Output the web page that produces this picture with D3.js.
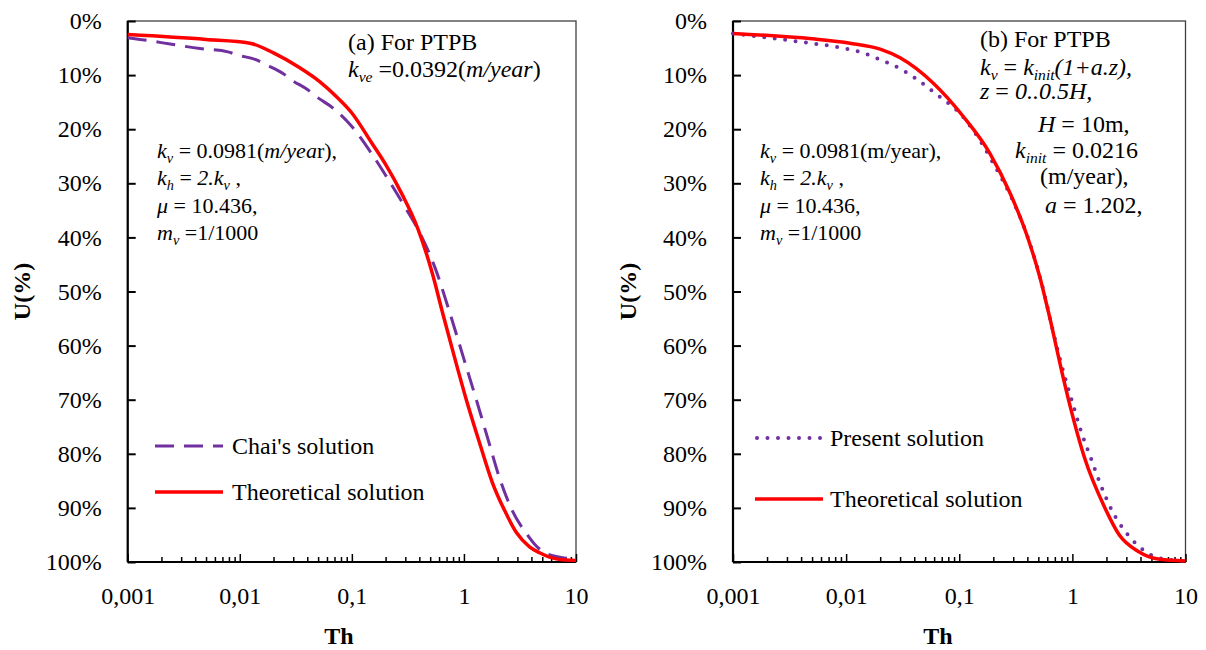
<!DOCTYPE html>
<html><head><meta charset="utf-8">
<script src="https://cdn.jsdelivr.net/npm/d3@7"></script>
<style>
html,body{margin:0;padding:0;background:#fff;}
svg{display:block;}
</style></head>
<body><svg id="c" width="1206" height="650" font-family="Liberation Serif, Times New Roman, serif"></svg>
<script>
// ---- data ----
const xTickValues = [0.001, 0.01, 0.1, 1, 10];
const xTickLabels = ["0,001", "0,01", "0,1", "1", "10"];
const yTickValues = [0, 10, 20, 30, 40, 50, 60, 70, 80, 90, 100];

// panel (a) theoretical
const thA_theory = [0.001,0.005,0.0123,0.02,0.034,0.0516,0.073,0.1,0.15,0.2,0.28,0.39,0.52,0.65,0.82,1.05,1.38,1.8,2.31,2.95,3.85,4.73,5.81,7.5,10];
const uA_theory  = [2.5,3.4,4.1,5.9,8.6,11.2,14.0,17.0,22.5,26.5,32.0,38.5,46.5,54.2,62.0,70.0,78.0,85.4,90.5,94.6,97.2,98.3,99.1,99.6,99.7];
// panel (a) Chai's solution
const thA_chai = [0.001,0.00129,0.00247,0.00441,0.00783,0.00962,0.0141,0.0173,0.0243,0.029,0.0407,0.0483,0.068,0.1,0.15,0.2,0.3,0.4,0.55,0.75,1.0,1.29,1.65,2.08,2.7,3.6,4.4,5.42,8.18,10];
const uA_chai  = [3.1,3.4,4.3,5.1,5.7,6.3,7.2,8.1,9.7,10.9,12.75,14.0,16.1,19.5,24.5,28.5,34.5,39.0,45.5,54.0,62.5,70.0,77.5,84.5,90.5,94.7,97.0,98.4,99.3,99.6];
// panel (b) present solution
const thB_present = [0.001,0.00226,0.00449,0.00883,0.0133,0.0208,0.0312,0.045,0.0636,0.108,0.158,0.2,0.246,0.301,0.382,0.469,0.555,0.66,0.8,1.0,1.2,1.44,1.8,2.24,3.1,4.37,6.6,10];
const uB_present  = [2.3,3.2,4.0,4.9,5.7,7.3,9.0,11.2,13.6,17.7,22.6,26.3,29.7,33.4,38.6,44.2,49.8,56.5,63.5,70.5,76.0,80.5,86.0,90.5,95.0,98.0,99.5,99.8];
// panel (b) theoretical
const thB_theory = [0.001,0.005,0.0108,0.02,0.030,0.059,0.109,0.187,0.281,0.395,0.518,0.65,0.8,0.95,1.27,1.94,2.6,3.8,5.9,10];
const uB_theory  = [2.3,3.3,4.1,5.2,6.8,11.5,17.7,24.5,31.8,39.5,47.5,56.0,64.5,71.0,80.5,90.0,95.0,98.0,99.5,99.8];

const RED = "#FF0000", PURPLE = "#7030A0";
const FONT = "Liberation Serif, Times New Roman, serif";
const svg = d3.select("#c");

function richText(g, x, y, size, segs) {
  const t = g.append("text").attr("x", x).attr("y", y).attr("font-size", size)
    .attr("font-family", FONT).attr("fill", "#000").attr("xml:space", "preserve");
  let sub = false;
  segs.forEach(([s, st]) => {
    const ts = t.append("tspan").text(s);
    if (st === "i") ts.attr("font-style", "italic");
    if (st === "sub") {
      ts.attr("font-style", "italic").attr("font-size", size * 0.65).attr("dy", size * 0.22);
      sub = true;
    } else if (sub) {
      ts.attr("dy", -size * 0.22); sub = false;
    }
  });
  return t;
}

function panel(cfg) {
  const g = svg.append("g");
  const x = d3.scaleLog().domain([0.001, 10]).range([cfg.left, cfg.right]);
  const y = d3.scaleLinear().domain([0, 100]).range([cfg.top, cfg.bottom]);

  g.append("rect").attr("x", cfg.left).attr("y", cfg.top)
    .attr("width", cfg.right - cfg.left).attr("height", cfg.bottom - cfg.top)
    .attr("fill", "none").attr("stroke", "#404040").attr("stroke-width", 1.3);

  const ya = g.append("g").attr("transform", `translate(${cfg.left},0)`)
    .call(d3.axisLeft(y).tickValues(yTickValues).tickFormat(d => d + "%").tickSizeInner(-8).tickSizeOuter(0).tickPadding(26));
  ya.select(".domain").remove();
  ya.selectAll("line").attr("stroke", "#000").attr("stroke-width", 2);
  ya.selectAll("text").attr("font-size", 24).attr("font-family", FONT).attr("fill", "#000");

  const minors = x.ticks().filter(v => !xTickValues.some(m => Math.abs(Math.log10(v) - Math.log10(m)) < 1e-6));
  const xm = g.append("g").attr("transform", `translate(0,${cfg.bottom})`)
    .call(d3.axisBottom(x).tickValues(minors).tickFormat("").tickSizeInner(-5).tickSizeOuter(0));
  xm.select(".domain").remove();
  xm.selectAll("line").attr("stroke", "#000").attr("stroke-width", 1.5);

  const xa = g.append("g").attr("transform", `translate(0,${cfg.bottom})`)
    .call(d3.axisBottom(x).tickValues(xTickValues).tickFormat((d, i) => xTickLabels[i]).tickSizeInner(-8).tickSizeOuter(0).tickPadding(25));
  xa.select(".domain").remove();
  xa.selectAll("line").attr("stroke", "#000").attr("stroke-width", 1.5);
  xa.selectAll("text").attr("font-size", 24).attr("font-family", FONT).attr("fill", "#000");

  g.append("line").attr("x1", cfg.left).attr("x2", cfg.left).attr("y1", cfg.top).attr("y2", cfg.bottom).attr("stroke", "#000").attr("stroke-width", 2.2);
  g.append("line").attr("x1", cfg.left).attr("x2", cfg.right).attr("y1", cfg.bottom).attr("y2", cfg.bottom).attr("stroke", "#000").attr("stroke-width", 2.2);

  g.append("text").attr("transform", `translate(${cfg.yTitleX},${(cfg.top + cfg.bottom) / 2}) rotate(-90)`)
    .attr("text-anchor", "middle").attr("dominant-baseline", "central").attr("font-family", FONT)
    .attr("font-size", 24).attr("font-weight", "bold").text("U(%)");
  g.append("text").attr("x", cfg.xTitleX).attr("y", 644).attr("text-anchor", "middle").attr("font-family", FONT)
    .attr("font-size", 24).attr("font-weight", "bold").text("Th");

  const line = d3.line().x(d => x(d[0])).y(d => y(d[1])).curve(d3.curveMonotoneX);
  cfg.series.forEach(s => {
    g.append("path").datum(d3.zip(s.th, s.u)).attr("d", line)
      .attr("fill", "none").attr("stroke", s.color).attr("stroke-width", s.width)
      .attr("stroke-dasharray", s.dash || null).attr("stroke-linecap", s.cap || "butt");
  });
  return g;
}

panel({
  left: 127.7, right: 576, top: 21, bottom: 562, yTitleX: 22, xTitleX: 339,
  series: [
    {th: thA_chai, u: uA_chai, color: PURPLE, width: 3, dash: "19,10"},
    {th: thA_theory, u: uA_theory, color: RED, width: 3.5}
  ]
});
panel({
  left: 733, right: 1185.5, top: 21, bottom: 562, yTitleX: 628, xTitleX: 938,
  series: [
    {th: thB_present, u: uB_present, color: PURPLE, width: 4, dash: "0,10.5", cap: "round"},
    {th: thB_theory, u: uB_theory, color: RED, width: 3.5}
  ]
});

function legendItem(x1, x2, y, tx, ty, label, color, width, dash, cap) {
  svg.append("line").attr("x1", x1).attr("x2", x2).attr("y1", y).attr("y2", y)
    .attr("stroke", color).attr("stroke-width", width).attr("stroke-dasharray", dash || null).attr("stroke-linecap", cap || "butt");
  svg.append("text").attr("x", tx).attr("y", ty).attr("font-size", 24).attr("font-family", FONT).text(label);
}
legendItem(155, 223, 446, 232, 454, "Chai's solution", PURPLE, 3, "19,10");
legendItem(155, 223, 492, 232, 500, "Theoretical solution", RED, 3.5);
legendItem(757, 822, 438, 830, 446, "Present solution", PURPLE, 4, "0,10.5", "round");
legendItem(755, 823, 499, 830, 507, "Theoretical solution", RED, 3.5);

// annotations panel (a)
richText(svg, 348, 50, 24, [["(a) For PTPB", "n"]]);
richText(svg, 348, 77, 24, [["k", "i"], ["ve", "sub"], [" =0.0392(", "n"], ["m/year", "i"], [")", "n"]]);
richText(svg, 157, 158, 22, [["k", "i"], ["v", "sub"], [" = 0.0981(", "n"], ["m/yea", "i"], ["r),", "n"]]);
richText(svg, 157, 185, 22, [["k", "i"], ["h", "sub"], [" = ", "n"], ["2.k", "i"], ["v", "sub"], [" ,", "n"]]);
richText(svg, 157, 213, 22, [["\u03bc", "i"], [" = 10.436,", "n"]]);
richText(svg, 157, 240, 22, [["m", "i"], ["v", "sub"], [" =1/1000", "n"]]);

// annotations panel (b)
richText(svg, 760, 158, 22, [["k", "i"], ["v", "sub"], [" = 0.0981(m/year),", "n"]]);
richText(svg, 760, 185, 22, [["k", "i"], ["h", "sub"], [" = ", "n"], ["2.k", "i"], ["v", "sub"], [" ,", "n"]]);
richText(svg, 760, 213, 22, [["\u03bc", "i"], [" = 10.436,", "n"]]);
richText(svg, 760, 240, 22, [["m", "i"], ["v", "sub"], [" =1/1000", "n"]]);

richText(svg, 980, 47, 24, [["(b) For PTPB", "n"]]);
richText(svg, 980, 75, 24, [["k", "i"], ["v", "sub"], [" = ", "n"], ["k", "i"], ["init", "sub"], ["(1+a.z),", "i"]]);
richText(svg, 980, 99, 24, [["z", "i"], [" = ", "n"], ["0..0.5H,", "i"]]);
richText(svg, 1038, 132, 24, [["H", "i"], [" = 10m,", "n"]]);
richText(svg, 1015, 158, 24, [["k", "i"], ["init", "sub"], [" = 0.0216", "n"]]);
richText(svg, 1040, 184, 24, [["(m/year),", "n"]]);
richText(svg, 1045, 213, 24, [["a", "i"], [" = 1.202,", "n"]]);
</script></body></html>
